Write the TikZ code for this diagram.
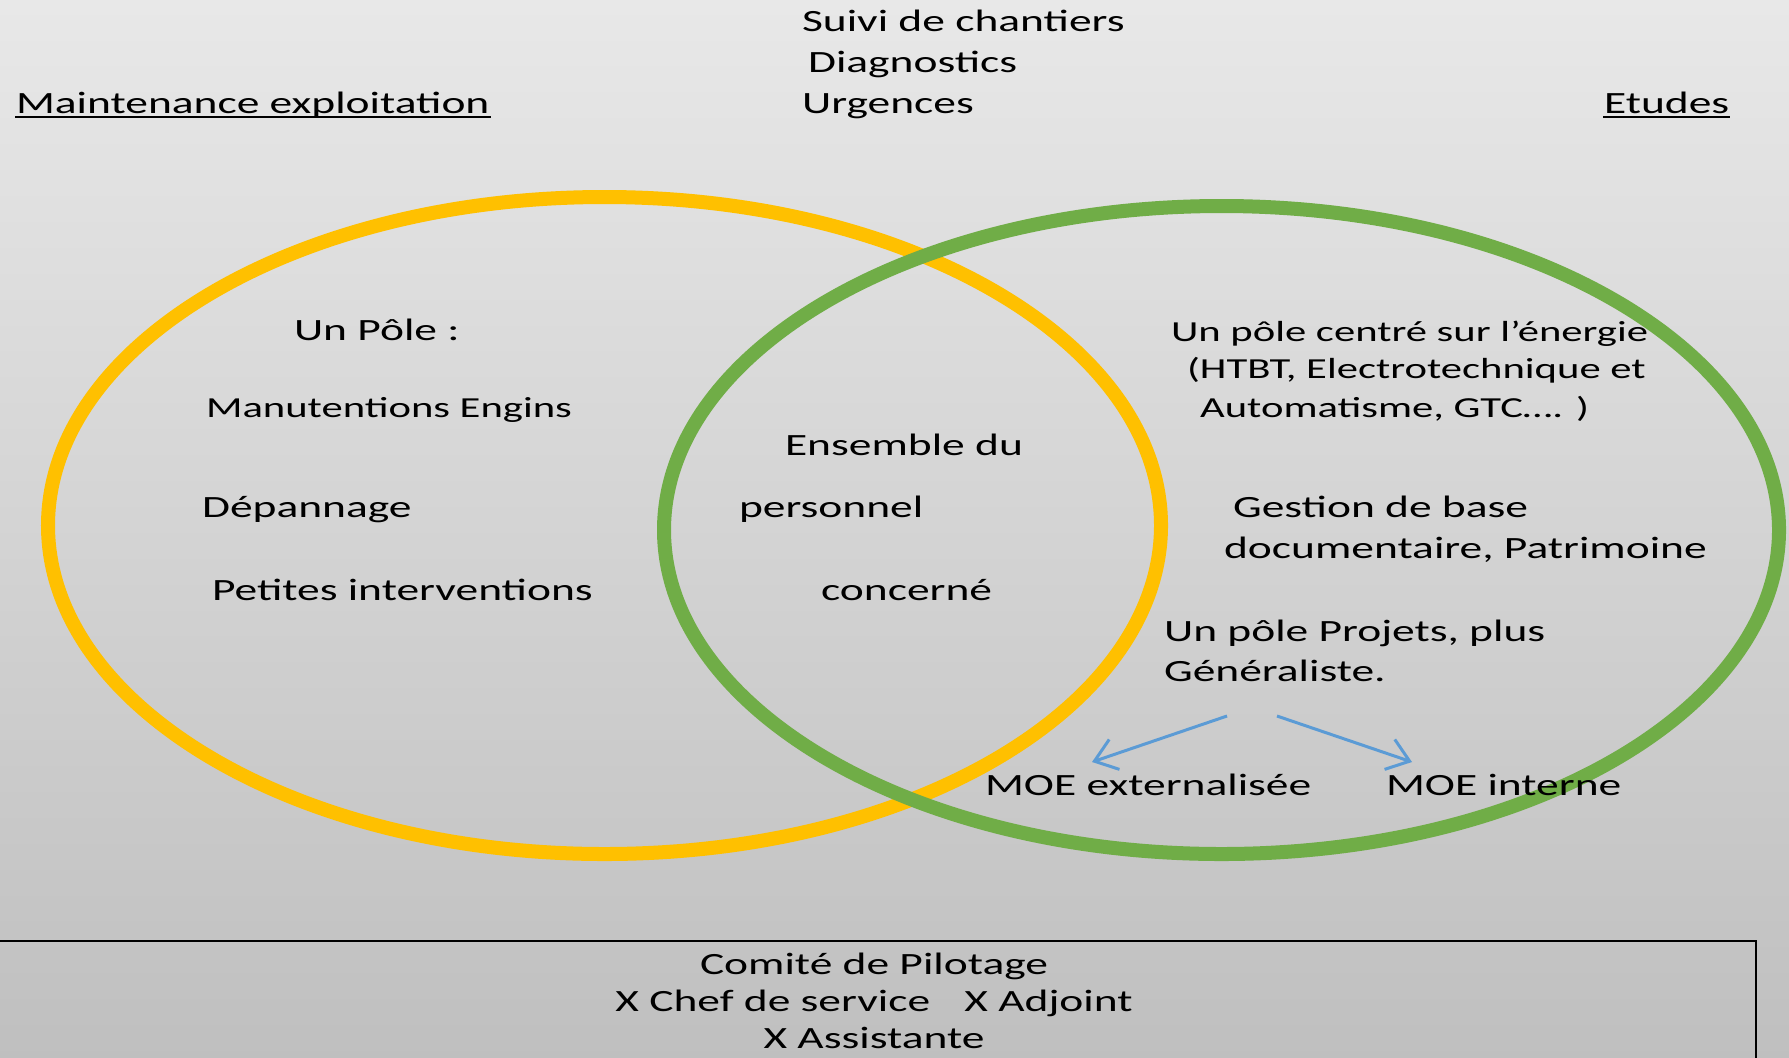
\documentclass[tikz,border=0pt]{standalone}
\usepackage{fontspec}
\setmainfont{Carlito}
\usetikzlibrary{arrows.meta}

\definecolor{poleyellow}{RGB}{255,192,0}
\definecolor{polegreen}{RGB}{112,173,71}
\definecolor{moeblue}{RGB}{91,155,213}

\tikzset{
	lbl/.style={font=\fontsize{8.8}{10.5}\selectfont, xscale=1.47, inner sep=0pt, anchor=base west},
	smalllbl/.style={lbl, font=\fontsize{8.25}{10}\selectfont},
	midlbl/.style={lbl, anchor=base},
	ring/.style={line width=0.14cm},
	split/.style={draw=moeblue, line width=0.85pt, -{Straight Barb[length=6pt,width=9pt]}},
}

\begin{document}
\begin{tikzpicture}[x=0.01cm, y=-0.01cm]
			%%%%% BACKGROUND %%%%%
			\useasboundingbox (0, 0) rectangle (1789, 1057);
			\shade[top color=black!9, bottom color=black!25] (0, 0) rectangle (1789, 1057);
			
			%%%%% HEADINGS %%%%%
			\node[lbl] (maint) at (15, 113) {Maintenance exploitation};
			\draw[line width=0.02cm] ([yshift=-0.04cm]maint.base west) -- ([yshift=-0.04cm]maint.base east);
			\node[lbl] (etudes) at (1603, 113) {Etudes};
			\draw[line width=0.02cm] ([yshift=-0.04cm]etudes.base west) -- ([yshift=-0.04cm]etudes.base east);
			
			\node[lbl] (suivi) at (801, 31) {Suivi de chantiers};
			\node[lbl] (diag) at (807, 72) {Diagnostics};
			\node[lbl] (urg) at (801, 113) {Urgences};
			
			%%%%% CIRCLES %%%%%
			\draw[ring, poleyellow] (604.5, 525.5) ellipse [x radius=556.5, y radius=328.5];
			\draw[ring, polegreen] (1221.5, 530) ellipse [x radius=557.5, y radius=324];
			
			%%%%% LEFT %%%%%
			\node[lbl] (pole) at (293, 340) {Un Pôle :};
			\node[smalllbl] (manut) at (205, 417) {Manutentions Engins};
			\node[lbl] (depan) at (201, 517) {Dépannage};
			\node[lbl] (petites) at (211, 600) {Petites interventions};
			
			%%%%% MIDDLE %%%%%
			\node[lbl] (ens) at (784, 455) {Ensemble du};
			\node[lbl] (pers) at (738, 517) {personnel};
			\node[lbl] (conc) at (820, 600) {concerné};
			
			%%%%% RIGHT %%%%%
			\node[smalllbl] (energie) at (1170, 341) {Un pôle centré sur l’énergie};
			\node[smalllbl] (htbt) at (1186, 378) {(HTBT, Electrotechnique et};
			\node[smalllbl] (auto) at (1199, 417) {Automatisme, GTC…. )};
			\node[lbl] (gestion) at (1232, 517) {Gestion de base};
			\node[lbl] (docu) at (1223, 558) {documentaire, Patrimoine};
			\node[lbl] (projets) at (1163, 641) {Un pôle Projets, plus};
			\node[lbl] (gen) at (1163, 681) {Généraliste.};
			\node[lbl] (moeext) at (984, 795) {MOE externalisée};
			\node[lbl] (moeint) at (1385, 795) {MOE interne};
			
			\coordinate (from ext) at (1227, 716);
			\coordinate (from int) at (1277, 716);
			\coordinate (to ext) at (1092, 762);
			\coordinate (to int) at (1412, 762);
			\draw[split] (from ext) -- (to ext);
			\draw[split] (from int) -- (to int);
			
			%%%%% COMITE %%%%%
			\draw[line width=0.02cm] (-10, 1070) -- (-10, 941) -- (1756, 941) -- (1756, 1070);
			\node[midlbl] (comite) at (874, 974) {Comité de Pilotage};
			\node[midlbl] (chef) at (874, 1011) {X Chef de service\hspace{0.75em}X Adjoint};
			\node[midlbl] (assist) at (874, 1048) {X Assistante};
			
			%%%%% END %%%%%
\end{tikzpicture}
\end{document}
